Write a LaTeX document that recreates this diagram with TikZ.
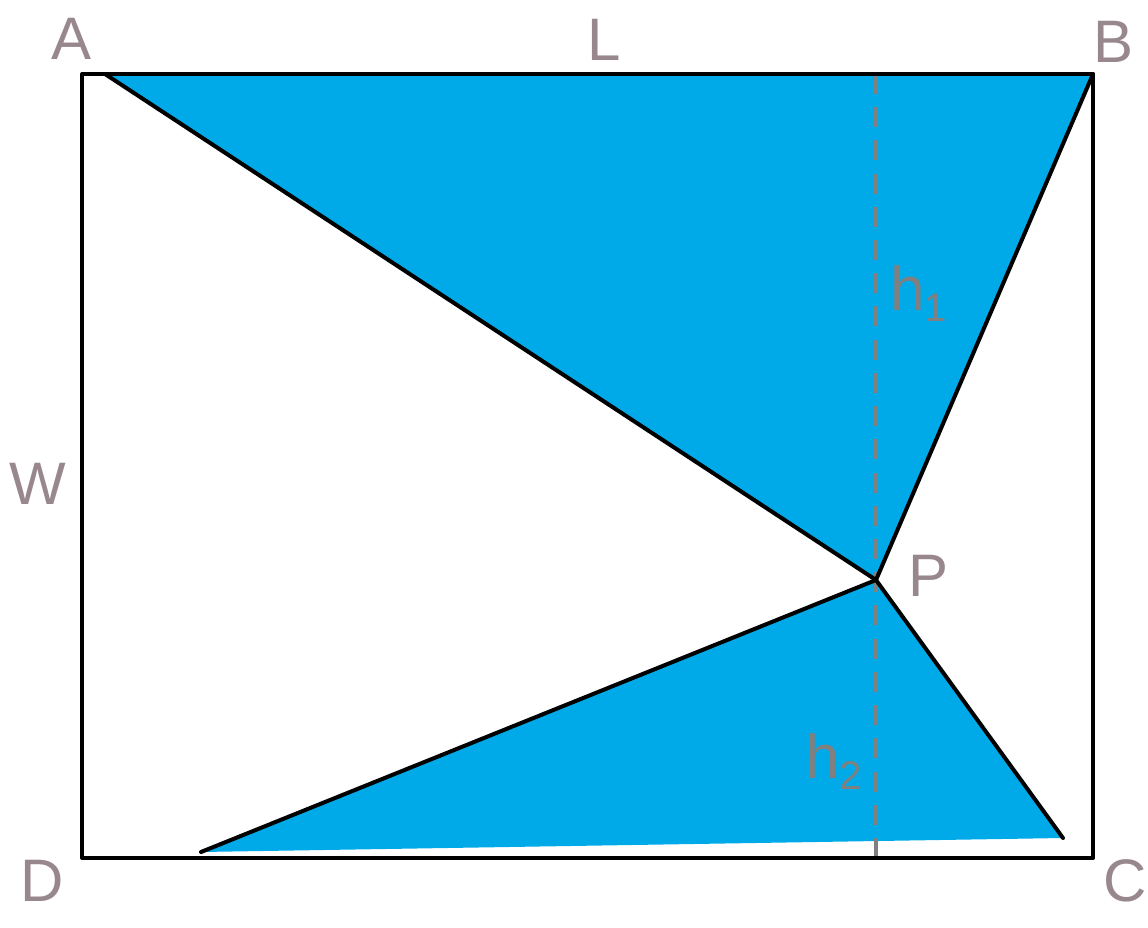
\documentclass[tikz,border=0pt]{standalone}
\usepackage{fontspec}
\setmainfont{Liberation Sans}
\definecolor{skyblue}{RGB}{0,170,232}
\definecolor{labgray}{RGB}{152,136,142}
\definecolor{hgray}{RGB}{128,128,128}
\newcommand{\subnum}[1]{\raisebox{-11pt}{\fontsize{40}{40}\selectfont #1}}
\begin{document}
\begin{tikzpicture}[x=1pt,y=-1pt,
  edge/.style={line width=4pt,line cap=round,line join=round},
  lab/.style={text=labgray,font=\fontsize{60}{60}\selectfont,inner sep=0pt},
  hlab/.style={text=hgray,font=\fontsize{62}{62}\selectfont,inner sep=0pt}]
\useasboundingbox (0,0) rectangle (1148,928);
\coordinate (A) at (82,74);
\coordinate (B) at (1093,74);
\coordinate (C) at (1093,858);
\coordinate (D) at (82,858);
\coordinate (A1) at (105,74);
\coordinate (P) at (876,580);
\coordinate (D1) at (201,852);
\coordinate (C1) at (1063,838);
\coordinate (T) at (876,74);
\coordinate (U) at (876,858);
\fill[skyblue] (A1) -- (B) -- (P) -- cycle;
\fill[skyblue] (D1) -- (P) -- (C1) -- cycle;
\draw[hgray,line width=4pt,dash pattern=on 20pt off 13.22pt] (U) -- (T);
\draw[edge] (A) -- (B) -- (C) -- (D) -- cycle;
\draw[edge] (A1) -- (P) -- (B);
\draw[edge] (D1) -- (P) -- (C1);
\node[lab] (la) at (72,39) {A};
\node[lab] (ll) at (604,40) {L};
\node[lab] (lb) at (1113,42) {B};
\node[lab] (lw) at (38,484) {W};
\node[lab] (lp) at (928,576) {P};
\node[lab] (ld) at (42,881) {D};
\node[lab] (lc) at (1125,881) {C};
\node[hlab,anchor=base west] (h1) at (890,310) {h\subnum{1}};
\node[hlab,anchor=base west] (h2) at (805,778) {h\subnum{2}};
\end{tikzpicture}
\end{document}
